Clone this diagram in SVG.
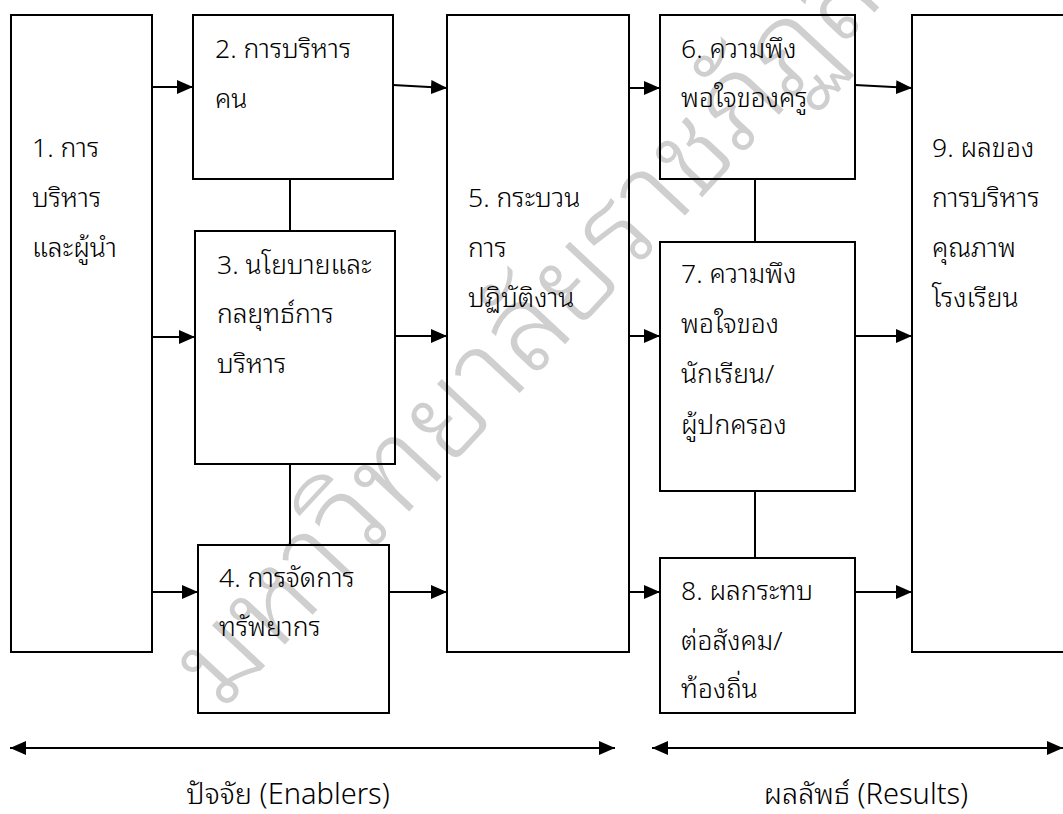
<svg xmlns="http://www.w3.org/2000/svg" width="1063" height="814" viewBox="0 0 1063 814">
<defs>
<style>
.box{fill:none;stroke:#000;stroke-width:2}
.ln{stroke:#000;stroke-width:2;fill:none}
.ar{stroke:#000;stroke-width:2;fill:none;marker-end:url(#ah)}
.dbl{stroke:#000;stroke-width:2;fill:none;marker-start:url(#ahs);marker-end:url(#ah)}
.t{font-family:"Noto Sans Thai Looped","Noto Sans Thai","Liberation Sans",sans-serif;font-size:26.5px;font-weight:300;fill:#000}
.lb{font-size:29px}
.wm{font-family:"Noto Sans Thai Looped","Noto Serif Thai","Noto Sans Thai",sans-serif;font-size:120px;font-weight:300;fill:#cfcfcf}
</style>
<marker id="ah" markerWidth="16" markerHeight="14" refX="16" refY="7" orient="auto" markerUnits="userSpaceOnUse"><path d="M0,0 L16,7 L0,14 Z" fill="#000"/></marker>
<marker id="ahs" markerWidth="16" markerHeight="14" refX="0" refY="7" orient="auto" markerUnits="userSpaceOnUse"><path d="M16,0 L0,7 L16,14 Z" fill="#000"/></marker>
</defs>
<rect width="1063" height="814" fill="#fff"/>
<g id="watermark"><text class="wm" transform="translate(222,712) rotate(-47)">มหาวิทยาลัยราชภัฏสกลนคร</text></g>
<g id="connectors">
<path class="ar" d="M152,87 L193,87"/>
<path class="ar" d="M152,337 L195,337"/>
<path class="ar" d="M152,592 L198,592"/>
<path class="ar" d="M393,85 L447,88"/>
<path class="ar" d="M395,336 L447,336"/>
<path class="ar" d="M389,592 L447,592"/>
<path class="ar" d="M629,88 L660,88"/>
<path class="ar" d="M629,336 L660,336"/>
<path class="ar" d="M629,592 L660,592"/>
<path class="ar" d="M855,85 L912,88"/>
<path class="ar" d="M855,336 L912,336"/>
<path class="ar" d="M855,592 L912,592"/>
<path class="ln" d="M290,179 L290,231"/>
<path class="ln" d="M290,464 L290,545"/>
<path class="ln" d="M755,179 L755,242"/>
<path class="ln" d="M755,491 L755,558"/>
<path class="dbl" d="M10,748 L615,748"/>
<path class="dbl" d="M652,748 L1063,748"/>
</g>
<g id="n1"><rect class="box" x="11" y="15" width="141" height="637"/>
<text class="t" x="32" y="157">1. การ</text><text class="t" x="32" y="207">บริหาร</text><text class="t" x="32" y="257">และผู้นำ</text></g>
<g id="n2"><rect class="box" x="193" y="15" width="200" height="164"/>
<text class="t" x="215" y="58">2. การบริหาร</text><text class="t" x="215" y="108">คน</text></g>
<g id="n3"><rect class="box" x="195" y="231" width="200" height="233"/>
<text class="t" x="217" y="274">3. นโยบายและ</text><text class="t" x="217" y="323">กลยุทธ์การ</text><text class="t" x="217" y="373">บริหาร</text></g>
<g id="n4"><rect class="box" x="198" y="545" width="191" height="168"/>
<text class="t" x="219" y="587">4. การจัดการ</text><text class="t" x="219" y="636">ทรัพยากร</text></g>
<g id="n5"><rect class="box" x="447" y="15" width="182" height="637"/>
<text class="t" x="468" y="207">5. กระบวน</text><text class="t" x="468" y="257">การ</text><text class="t" x="468" y="307">ปฏิบัติงาน</text></g>
<g id="n6"><rect class="box" x="660" y="15" width="195" height="164"/>
<text class="t" x="681" y="58">6. ความพึง</text><text class="t" x="681" y="107">พอใจของครู</text></g>
<g id="n7"><rect class="box" x="660" y="242" width="195" height="249"/>
<text class="t" x="681" y="283">7. ความพึง</text><text class="t" x="681" y="333">พอใจของ</text><text class="t" x="681" y="383">นักเรียน/</text><text class="t" x="681" y="434">ผู้ปกครอง</text></g>
<g id="n8"><rect class="box" x="660" y="558" width="195" height="155"/>
<text class="t" x="681" y="600">8. ผลกระทบ</text><text class="t" x="681" y="650">ต่อสังคม/</text><text class="t" x="681" y="698">ท้องถิ่น</text></g>
<g id="n9"><rect class="box" x="912" y="15" width="160" height="637"/>
<text class="t" x="932" y="157">9. ผลของ</text><text class="t" x="932" y="207">การบริหาร</text><text class="t" x="932" y="257">คุณภาพ</text><text class="t" x="932" y="307">โรงเรียน</text></g>
<g id="labels">
<text class="t lb" x="288" y="804" text-anchor="middle">ปัจจัย (Enablers)</text>
<text class="t lb" x="866" y="804" text-anchor="middle">ผลลัพธ์ (Results)</text>
</g>
</svg>
